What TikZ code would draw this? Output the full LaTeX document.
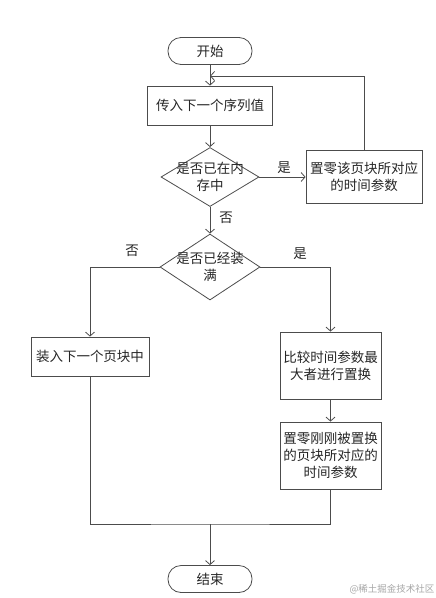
\documentclass[tikz,border=0pt]{standalone}
\usepackage{fontspec}
\setmainfont{Noto Sans CJK SC}
\usepackage{xcolor}
\usepackage{tikz}
\usetikzlibrary{positioning, arrows.meta, shapes.geometric}

\begin{document}
\begin{tikzpicture}[x=1pt, y=-1pt,
        every node/.style={font=\fontsize{13.5}{17}\selectfont, text=black!85},
        line/.style={draw=black!70, line width=0.8pt},
        arrow/.style={line, -{Straight Barb[length=4pt, width=9pt]}},
        terminal/.style={line, rectangle, rounded corners=13pt, minimum width=84pt, minimum height=27pt},
        process/.style={line, rectangle, align=center, inner sep=2pt},
        decision/.style={line, diamond, inner sep=0pt}]
        \useasboundingbox (0,0) rectangle (436,598);

        % Main column
        \node[terminal] (start) at (210,51) {开始};
        \node[process, minimum width=125pt, minimum height=39pt] (pass) at (210,105.5) {传入下一个序列值};
        \node[decision, minimum width=98pt, minimum height=59pt] (inmem) at (210,177) {};
        \node[align=center] (inmemtxt) at (inmem) {是否已在内\\存中};
        \node[process, minimum width=116pt, minimum height=53pt] (resethit) at (364,177) {置零该页块所对应\\的时间参数};
        \node[decision, minimum width=100pt, minimum height=66pt] (full) at (210,267) {};
        \node[align=center] (fulltxt) at (full) {是否已经装\\满};

        % Two branches
        \node[process, minimum width=118pt, minimum height=39pt] (load) at (90,356.5) {装入下一个页块中};
        \node[process, minimum width=101pt, minimum height=67pt] (swap) at (330.5,365.5) {比较时间参数最\\大者进行置换};
        \node[process, minimum width=101pt, minimum height=67pt] (resetswap) at (330.5,455.5) {置零刚刚被置换\\的页块所对应的\\时间参数};
        \node[terminal] (stop) at (210,579) {结束};

        % Branch labels
        \node (yes1) at (284,168) {是};
        \node (no1) at (226,218) {否};
        \node (no2) at (132,251) {否};
        \node (yes2) at (300,254) {是};

        % Connectors
        \coordinate (back) at (210,76);
        \coordinate (join) at (210,524);
        \draw[arrow] (start) -- (pass);
        \draw[arrow] (resethit.north) |- (back);
        \draw[arrow] (pass) -- (inmem);
        \draw[arrow] (inmem) -- (resethit);
        \draw[arrow] (inmem) -- (full);
        \draw[arrow] (full.west) -| (load.north);
        \draw[arrow] (full.east) -| (swap.north);
        \draw[arrow] (swap) -- (resetswap);
        \draw[line] (load.south) |- (join) -| (resetswap.south);
        \draw[arrow] (join) -- (stop);

        \node[text=black!35, font=\fontsize{9.5}{11}\selectfont] (mark) at (392,589) {@稀土掘金技术社区};
    \end{tikzpicture}
\end{document}
